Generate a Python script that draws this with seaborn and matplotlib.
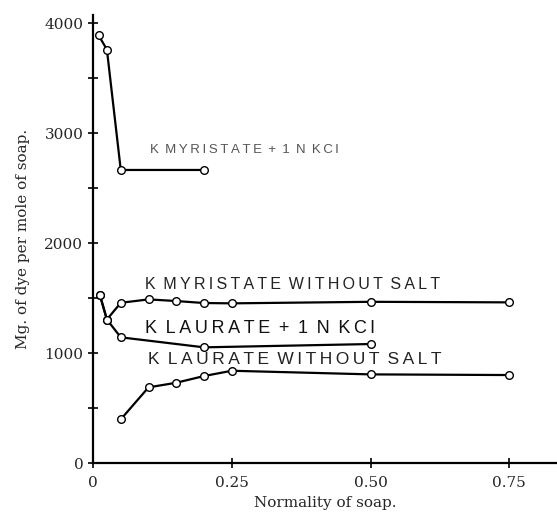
import numpy as np
import pandas as pd
import matplotlib
matplotlib.use('Agg')
import matplotlib.pyplot as plt
import seaborn as sns

# data (normality of soap, mg dye per mole soap)
myr_kcl_x = [0.01, 0.025, 0.05, 0.2]
myr_kcl_y = [3890, 3760, 2665, 2665]

myr_x = [0.0125, 0.025, 0.05, 0.10, 0.15, 0.20, 0.25, 0.50, 0.75]
myr_y = [1525, 1305, 1457, 1488, 1473, 1455, 1452, 1466, 1461]

lau_kcl_x = [0.0125, 0.025, 0.05, 0.20, 0.50]
lau_kcl_y = [1525, 1305, 1143, 1052, 1082]

lau_x = [0.05, 0.10, 0.15, 0.20, 0.25, 0.50, 0.75]
lau_y = [397, 688, 730, 791, 839, 806, 800]

labels = ['K MYRISTATE + 1 N KCl', 'K MYRISTATE WITHOUT SALT',
          'K LAURATE + 1 N KCl', 'K LAURATE WITHOUT SALT']

sns.set_style('ticks')
plt.rcParams['font.family'] = ['DejaVu Serif']

fig = plt.figure(figsize=(5.57, 5.22), dpi=100)
ax = fig.add_axes([0.167, 0.113, 0.833, 0.858])

series = [(myr_kcl_x, myr_kcl_y), (myr_x, myr_y), (lau_kcl_x, lau_kcl_y), (lau_x, lau_y)]
for xs, ys in series:
    df = pd.DataFrame({'x': xs, 'y': ys})
    sns.lineplot(data=df, x='x', y='y', ax=ax, color='black', linewidth=1.6,
                 estimator=None, sort=False, marker='o', markersize=5.5,
                 markerfacecolor='white', markeredgecolor='black', markeredgewidth=1.0)


def spaced(s):
    # the old hand lettering is widely spaced: thin spaces between letters of a word
    return ' \u2009'.join('\u2009'.join(w) for w in s.split(' '))


# curve labels: x, y, size, colour
lab_pos = [(0.103, 2850, 9.5, '#555555'), (0.094, 1622, 11.5, '#222222'),
           (0.094, 1227, 13.0, '#111111'), (0.099, 943, 12.5, '#222222')]
for txt, (lx, ly, fs, c) in zip(labels, lab_pos):
    ax.text(lx, ly, spaced(txt), fontsize=fs, va='center', ha='left',
            family=['Liberation Sans', 'DejaVu Sans'], color=c)

ax.set_xlim(0, 0.836)
ax.set_ylim(0, 4073)
ax.set_xticks([0, 0.25, 0.50, 0.75])
ax.set_xticklabels(['0', '0.25', '0.50', '0.75'])
ax.set_yticks([0, 1000, 2000, 3000, 4000])
ax.set_yticks([500, 1500, 2500, 3500], minor=True)
ax.tick_params(axis='both', which='both', direction='inout', length=7, width=1.2,
               labelsize=11, color='black')
ax.tick_params(axis='x', pad=6)
ax.set_xlabel('Normality of soap.', fontsize=11, labelpad=4)
ax.set_ylabel('Mg. of dye per mole of soap.', fontsize=11, labelpad=10)

sns.despine(ax=ax)
for s in ['left', 'bottom']:
    ax.spines[s].set_linewidth(1.6)
    ax.spines[s].set_color('black')

fig.savefig('out.png', dpi=100)
